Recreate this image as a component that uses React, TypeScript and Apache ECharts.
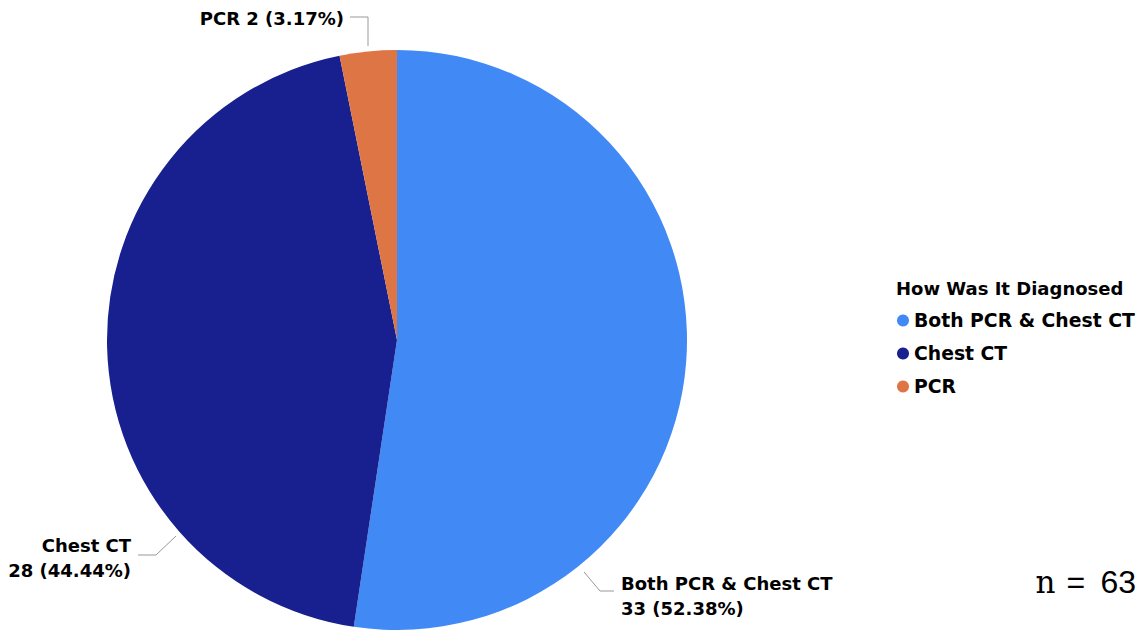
import React, { useEffect, useRef } from "react";
import * as echarts from "echarts";

const categories = ["Both PCR & Chest CT", "Chest CT", "PCR"];
const values = [33, 28, 2];
const colors = ["#4189f5", "#18208f", "#dd7544"];
const legendTitle = "How Was It Diagnosed";
const totalNote = { n: "n", eq: "=", count: "63" };

// label layout per slice: [x, y, align, line points]
const labelSpots: any[] = [
  { x: 621, y: 596, align: "left", line: [[584, 572], [600, 591], [614, 591]] },
  { x: 131, y: 558, align: "right", line: [[176, 536], [156, 555], [138, 555]] },
  { x: 344, y: 18, align: "right", line: [[368, 46], [368, 17], [350, 17]] },
];

const labelFont = "DejaVu Sans";

export default function App() {
  const ref = useRef<HTMLDivElement>(null);
  useEffect(() => {
    if (!ref.current) return;
    const chart = echarts.init(ref.current, null, { renderer: "svg" });
    const total = values.reduce((a, b) => a + b, 0);
    chart.setOption({
      animation: false,
      backgroundColor: "#ffffff",
      title: {
        text: legendTitle,
        left: 896,
        top: 279,
        padding: 0,
        textStyle: { fontFamily: labelFont, fontWeight: "bold", fontSize: 18, color: "#000" },
      },
      legend: {
        orient: "vertical",
        left: 897,
        top: 311,
        padding: 0,
        icon: "circle",
        itemWidth: 12,
        itemHeight: 12,
        itemGap: 14,
        data: categories,
        textStyle: { fontFamily: labelFont, fontWeight: "bold", fontSize: 18.8, color: "#000" },
      },
      graphic: [
        {
          type: "text",
          right: 7,
          top: 566,
          style: {
            text: `{a|${totalNote.n}}{b|${totalNote.eq}}{c|${totalNote.count}}`,
            rich: {
              a: { fontFamily: "DejaVu Serif", fontSize: 31, width: 31, align: "left", color: "#000" },
              b: { fontFamily: "Liberation Sans", fontSize: 32, width: 34, align: "left", color: "#000" },
              c: { fontFamily: "Liberation Sans", fontSize: 32, color: "#000" },
            },
          },
        },
      ],
      series: [
        {
          type: "pie",
          center: [397, 340],
          radius: 290,
          startAngle: 90,
          clockwise: true,
          data: categories.map((c, i) => ({
            name: c,
            value: values[i],
            itemStyle: { color: colors[i] },
          })),
          label: {
            show: true,
            position: "outside",
            fontFamily: labelFont,
            fontWeight: "bold",
            fontSize: 18,
            lineHeight: 25,
            color: "#000",
            overflow: "none",
            formatter: (p: any) => {
              const pct = ((p.value / total) * 100).toFixed(2);
              return p.dataIndex === 2
                ? `${p.name} ${p.value} (${pct}%)`
                : `${p.name}\n${p.value} (${pct}%)`;
            },
          },
          labelLine: { show: true, lineStyle: { color: "#999", width: 1 } },
          labelLayout: (params: any) => {
            const s = labelSpots[params.dataIndex];
            return {
              x: s.x,
              y: s.y,
              align: s.align,
              verticalAlign: "middle",
              labelLinePoints: s.line,
            };
          },
        },
      ],
    });
    return () => chart.dispose();
  }, []);
  return (
    <div
      ref={ref}
      style={{ position: "absolute", left: 0, top: 0, width: 1143, height: 630 }}
    />
  );
}
